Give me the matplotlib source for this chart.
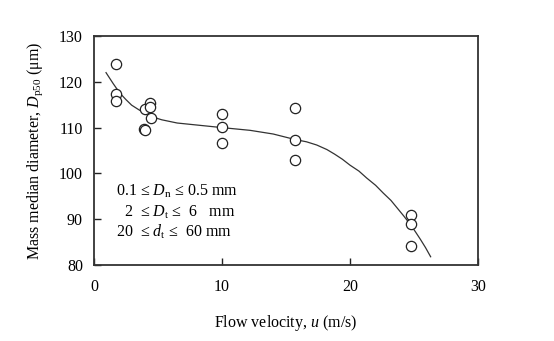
import matplotlib
matplotlib.use("Agg")
import matplotlib.pyplot as plt

# measured points
u_data = [1.7, 1.7, 1.7, 3.95, 4.4, 4.4, 4.45, 3.9, 4.0,
          10.0, 10.0, 10.0, 15.7, 15.7, 15.7, 24.8, 24.8, 24.8]
d_data = [123.8, 117.3, 115.9, 114.0, 115.4, 114.4, 112.2, 109.7, 109.5,
          113.0, 110.1, 106.6, 114.3, 107.2, 102.9, 90.9, 89.0, 84.1]

# fitted curve
u_fit = [0.94, 1.5, 2.0, 2.5, 2.94, 3.5, 3.98, 4.6, 5.3, 6.5, 7.9, 10.0, 12.2, 14.0, 15.7,
         16.6, 17.4, 18.2, 18.8, 19.4, 20.0, 20.7, 21.3, 22.0, 22.6, 23.2, 23.7, 24.2,
         24.7, 25.1, 25.5, 25.9, 26.3]
d_fit = [122.0, 119.6, 117.6, 116.1, 114.9, 113.9, 113.1, 112.3, 111.7, 111.0, 110.6,
         110.0, 109.4, 108.6, 107.4, 106.9, 106.2, 105.2, 104.2, 103.1, 101.8, 100.5,
         99.0, 97.4, 95.7, 94.1, 92.4, 90.7, 88.9, 87.3, 85.6, 83.8, 81.8]

x_ticks = [0, 10, 20, 30]
y_ticks = [80, 90, 100, 110, 120, 130]

plt.rcParams['font.family'] = ['Liberation Serif', 'DejaVu Serif']
plt.rcParams['mathtext.fontset'] = 'custom'
plt.rcParams['mathtext.rm'] = 'Liberation Serif'
plt.rcParams['mathtext.it'] = 'Liberation Serif:italic'

FS = 11.5

fig = plt.figure(figsize=(5.54, 3.41), dpi=100)
ax = fig.add_axes([94/554, 1-265/341, (478-94)/554, (265-36)/341])

ax.plot(u_fit, d_fit, color='#333333', lw=0.9)
ax.plot(u_data, d_data, linestyle='none', marker='o', ms=7.4,
        mfc='white', mec='#222222', mew=0.9)

ax.set_xlim(0, 30)
ax.set_ylim(80, 130)
ax.set_xticks(x_ticks)
ax.set_yticks(y_ticks)
ax.tick_params(direction='in', length=5, width=1.0, labelsize=FS, colors='#222222',
               labelcolor='black')
ax.tick_params(axis='x', pad=10)
ax.tick_params(axis='y', pad=8)
for s in ax.spines.values():
    s.set_linewidth(1.3)
    s.set_color('#333333')

ax.set_xlabel('Flow velocity, $u$ (m/s)', fontsize=FS, labelpad=13)
ax.set_ylabel(r'Mass median diameter, $D_{\mathrm{p50}}$ ($\mathrm{\mu}$m)', fontsize=FS, labelpad=10)

lines = ['0.1 ≤ $D_{\\mathrm{n}}$ ≤ 0.5 mm',
         '  2  ≤ $D_{\\mathrm{t}}$ ≤  6   mm',
         '20  ≤ $d_{\\mathrm{t}}$ ≤  60 mm']
ys = [96.0, 91.4, 87.3]
for s, y in zip(lines, ys):
    ax.text(1.75, y, s, fontsize=FS, va='center', ha='left')

fig.savefig('out.png', dpi=100)
